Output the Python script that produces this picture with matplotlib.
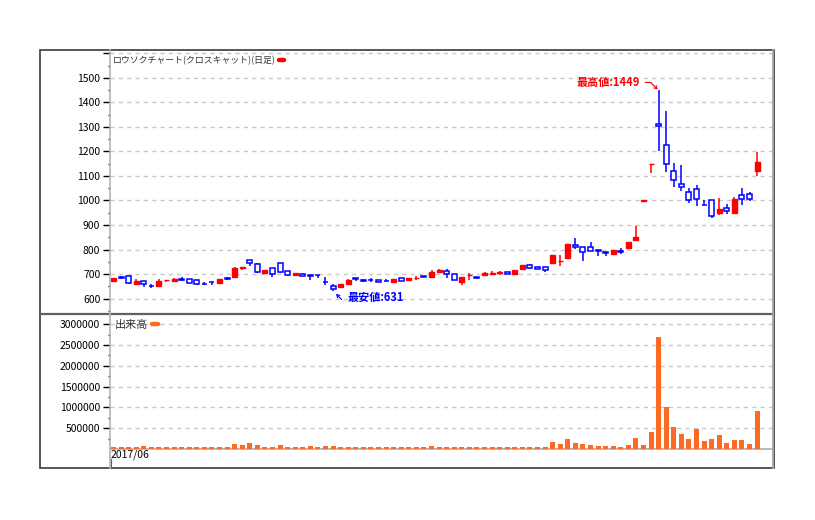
import matplotlib
matplotlib.use('Agg')
import matplotlib.pyplot as plt
from matplotlib.patches import Rectangle
from matplotlib.lines import Line2D
import numpy as np

plt.rcParams['font.family'] = ['Noto Sans CJK JP', 'DejaVu Sans']

# ---------------- data ----------------
start_label = '2017/06'
price_title = 'ロウソクチャート(クロスキャット)(日足)'
volume_title = '出来高'

opens = [673, 686, 692, 661, 670, 652, 652, 674, 673, 680,
         678, 674, 660, 667, 665, 682, 689, 726, 756, 741,
         705, 723, 745, 711, 695, 701, 697, 698, 667, 650,
         646, 658, 682, 674, 677, 674, 671, 669, 684, 674,
         684, 692, 689, 708, 714, 701, 667, 695, 686, 695,
         702, 706, 710, 699, 719, 735, 730, 730, 746, 753,
         765, 820, 812, 812, 796, 788, 782, 793, 807, 840,
         999, 1149, 1314, 1227, 1122, 1069, 1033, 1046, 982, 1000,
         950, 969, 949, 1022, 1026, 1120]
highs = [683, 690, 692, 678, 670, 658, 678, 675, 682, 686,
         678, 674, 666, 667, 678, 689, 729, 727, 757, 745,
         716, 723, 746, 711, 704, 704, 698, 698, 686, 659,
         661, 680, 682, 680, 684, 674, 678, 680, 684, 684,
         692, 692, 716, 722, 719, 701, 688, 705, 686, 710,
         711, 714, 710, 717, 736, 740, 731, 730, 777, 777,
         824, 845, 812, 830, 800, 788, 797, 805, 831, 896,
         1000, 1150, 1449, 1367, 1151, 1144, 1049, 1062, 1004, 1000,
         1010, 985, 1015, 1050, 1034, 1196]
lows = [671, 678, 661, 661, 648, 641, 652, 666, 673, 670,
        665, 656, 654, 656, 665, 674, 688, 718, 731, 706,
        701, 686, 705, 693, 695, 690, 677, 684, 656, 631,
        645, 658, 670, 666, 668, 666, 670, 669, 670, 670,
        675, 688, 688, 703, 682, 674, 656, 675, 678, 695,
        698, 698, 699, 699, 719, 722, 720, 709, 746, 733,
        761, 804, 752, 793, 772, 772, 782, 780, 807, 835,
        999, 1112, 1203, 1116, 1055, 1038, 990, 978, 981, 930,
        942, 944, 944, 983, 997, 1099]
closes = [682, 684, 665, 671, 658, 651, 670, 675, 680, 675,
          665, 661, 659, 666, 678, 681, 724, 727, 744, 707,
          716, 701, 707, 697, 704, 690, 690, 697, 666, 640,
          661, 675, 679, 673, 676, 666, 670, 680, 670, 684,
          685, 688, 708, 718, 701, 674, 688, 696, 685, 705,
          703, 707, 699, 716, 735, 723, 722, 715, 777, 754,
          822, 812, 790, 793, 795, 787, 797, 788, 831, 852,
          1000, 1150, 1302, 1150, 1085, 1057, 1004, 1008, 981, 935,
          965, 958, 1006, 1008, 1008, 1159]
volumes = [40000, 40000, 40000, 40000, 72000, 40000, 40000, 40000, 40000, 40000,
           40000, 40000, 40000, 40000, 40000, 40000, 112000, 96000, 136000, 96000,
           40000, 40000, 96000, 40000, 40000, 40000, 72000, 40000, 72000, 72000,
           40000, 40000, 40000, 40000, 40000, 40000, 40000, 40000, 40000, 40000,
           40000, 40000, 72000, 40000, 40000, 40000, 40000, 40000, 40000, 40000,
           40000, 40000, 40000, 40000, 40000, 40000, 40000, 56000, 175000, 127000,
           246000, 151000, 127000, 103000, 79000, 79000, 79000, 56000, 103000, 270000,
           103000, 413000, 2698000, 1000000, 532000, 365000, 246000, 484000, 198000, 246000,
           341000, 151000, 222000, 222000, 127000, 913000]

price_ticks = list(range(600, 1700, 100))
volume_ticks = list(range(500000, 3500000, 500000))

# ---------------- layout ----------------
W, H = 815, 520
fig = plt.figure(figsize=(W / 100, H / 100), dpi=100)
fig.patch.set_facecolor('white')


def fx(px):
    return px / W


def fy(py):
    return 1 - py / H


AX_L, AX_R = 110, 773
ax = fig.add_axes([fx(AX_L), fy(313), fx(AX_R) - fx(AX_L), fy(50) - fy(313)])
axv = fig.add_axes([fx(AX_L), fy(449), fx(AX_R) - fx(AX_L), fy(314) - fy(449)])

RED = '#ff0000'
BLUE = '#0000ff'
ORANGE = '#ff6a22'
GRID = '#c8c8c8'

n = len(opens)
x = np.arange(n)
bw = 0.66

for i in range(n):
    o, h, l, c = opens[i], highs[i], lows[i], closes[i]
    col = RED if c >= o else BLUE
    ax.vlines(i, l, h, color=col, lw=1.1, zorder=2)
    bottom = min(o, c)
    height = abs(c - o)
    if col == RED:
        ax.add_patch(Rectangle((i - bw / 2, bottom), bw, height, facecolor=RED,
                               edgecolor=RED, lw=1.0, zorder=3))
    else:
        ax.add_patch(Rectangle((i - bw / 2, bottom), bw, height, facecolor='white',
                               edgecolor=BLUE, lw=1.1, zorder=3))

axv.bar(x, volumes, width=bw, color=ORANGE, zorder=3)

xlim = (-0.46, 87.1)
for a in (ax, axv):
    a.set_xlim(*xlim)
    a.set_xticks([])
    a.set_facecolor('none')
    for s in a.spines.values():
        s.set_visible(False)
    a.tick_params(axis='y', which='major', length=5, width=1, color='black',
                  labelsize=7.5, pad=2, labelcolor='black')
    a.tick_params(axis='y', which='minor', length=1.6, width=1, color='black')
    a.set_axisbelow(True)

ax.set_ylim(541, 1614)
ax.set_yticks(price_ticks)
ax.set_yticklabels([str(v) if v < 1600 else '' for v in price_ticks])
ax.set_yticks([v + 50 for v in range(500, 1600, 100) if v + 50 > 541], minor=True)
ax.yaxis.grid(True, which='major', color=GRID, linestyle=(0, (3, 3)), lw=1)

axv.set_ylim(0, 3245000)
axv.set_yticks(volume_ticks)
axv.set_yticklabels([str(v) for v in volume_ticks])
axv.set_yticks([v - 250000 for v in volume_ticks], minor=True)
axv.yaxis.grid(True, which='major', color=GRID, linestyle=(0, (3, 3)), lw=1)
axv.spines['bottom'].set_visible(True)
axv.spines['bottom'].set_color('#b4b4b4')
axv.spines['bottom'].set_linewidth(1.3)

# legends (marker after the text)
ax.legend(handles=[Line2D([], [], color=RED, lw=3.2, solid_capstyle='round')],
          labels=[price_title], loc='center left',
          bbox_to_anchor=(fx(113), fy(61)), bbox_transform=fig.transFigure,
          markerfirst=False, frameon=False, handlelength=0.6,
          handletextpad=0.35, borderpad=0, borderaxespad=0,
          prop={'size': 6.4}, labelcolor='#333333')
axv.legend(handles=[Line2D([], [], color=ORANGE, lw=3.2, solid_capstyle='round')],
           labels=[volume_title], loc='center left',
           bbox_to_anchor=(fx(115), fy(325)), bbox_transform=fig.transFigure,
           markerfirst=False, frameon=False, handlelength=0.55,
           handletextpad=0.3, borderpad=0, borderaxespad=0,
           prop={'size': 8}, labelcolor='#333333')

# high / low annotations
imax = int(np.argmax(highs))
imin = int(np.argmin(lows))
ax.annotate(f'最高値:{highs[imax]}', xy=(imax, highs[imax]), xytext=(-19, 8),
            textcoords='offset pixels', ha='right', va='center', color=RED,
            fontsize=8, fontweight='bold',
            arrowprops=dict(arrowstyle='->,head_length=0.25,head_width=0.15', color=RED, lw=0.8,
                            connectionstyle='angle,angleA=0,angleB=135,rad=0',
                            relpos=(1, 0.5), shrinkA=2, shrinkB=1))
ax.annotate(f'最安値:{lows[imin]}', xy=(imin, lows[imin]), xytext=(14, -7),
            textcoords='offset pixels', ha='left', va='center', color=BLUE,
            fontsize=8, fontweight='bold',
            arrowprops=dict(arrowstyle='->,head_length=0.25,head_width=0.15', color=BLUE, lw=0.8,
                            connectionstyle='angle,angleA=0,angleB=135,rad=0',
                            relpos=(0, 0.35), shrinkA=2, shrinkB=3))

# date label
fig.text(fx(111), fy(450), start_label, ha='left', va='top', fontsize=7.5, color='black')

# frame and separators
fig.add_artist(Rectangle((fx(40), fy(468)), fx(774) - fx(40), fy(50) - fy(468),
                         transform=fig.transFigure, fill=False, ec='#3a3a3a', lw=1.2))
fig.add_artist(Line2D([fx(40), fx(774)], [fy(313.8), fy(313.8)], transform=fig.transFigure,
                      color='#606060', lw=1.6))
fig.add_artist(Line2D([fx(110), fx(110)], [fy(50), fy(468)], transform=fig.transFigure,
                      color='#b4b4b4', lw=1.2))
fig.add_artist(Line2D([fx(773), fx(773)], [fy(50), fy(468)], transform=fig.transFigure,
                      color='#a8a8a8', lw=1.3))
fig.add_artist(Line2D([fx(111.5), fx(111.5)], [fy(459), fy(468)], transform=fig.transFigure,
                      color='#606060', lw=0.8))

fig.savefig('out.png', dpi=100, facecolor='white')
